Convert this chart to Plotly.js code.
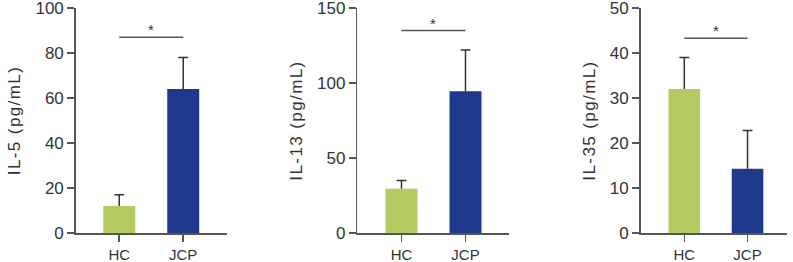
<!DOCTYPE html>
<html>
<head>
<meta charset="utf-8">
<script src="https://cdn.plot.ly/plotly-3.0.1.min.js"></script>
<style>
  html, body { margin: 0; padding: 0; background: #fff; }
  #chart { width: 793px; height: 262px; }
</style>
</head>
<body>
<div id="chart"></div>
<script>
// groups and values (mean + upper SD)
const groups = ["HC", "JCP"];
const barColors = ["#b3cb61", "#1f3a8c"];

const il5Mean = [12, 64];
const il5Err = [5, 14];
const il13Mean = [29.5, 94.5];
const il13Err = [5.5, 27.5];
const il35Mean = [32, 14.3];
const il35Err = [7, 8.5];

const panelTitles = ["IL-5 (pg/mL)", "IL-13 (pg/mL)", "IL-35 (pg/mL)"];
const yMax = [100, 150, 50];
const yStep = [20, 50, 10];
const sigLevel = [87, 135, 43.3];
const sigMark = ["*", "*", "*"];

const means = [il5Mean, il13Mean, il35Mean];
const errs = [il5Err, il13Err, il35Err];

// panel domains (paper fraction)
const domains = [[0.0955, 0.2859], [0.4506, 0.6419], [0.8079, 0.9921]];
const xRanges = [[-0.68, 1.68], [-0.69, 1.68], [-0.69, 1.62]];

const axisColor = "#555555";
const textColor = "#333333";
const fontFam = "Liberation Sans, Arial, sans-serif";

const traces = [];
const layout = {
    width: 793,
    height: 262,
    margin: { l: 0, r: 0, t: 8, b: 29 },
    paper_bgcolor: "#ffffff",
    plot_bgcolor: "#ffffff",
    showlegend: false,
    font: { family: fontFam, color: textColor, size: 17 },
    shapes: [],
    annotations: []
};

for (let i = 0; i < 3; i++) {
    const n = i === 0 ? "" : String(i + 1);
    // bars with the upper error line only (no caps, so no cap on the bar top)
    traces.push({
        type: "bar",
        x: groups,
        y: means[i],
        xaxis: "x" + n,
        yaxis: "y" + n,
        width: 0.5,
        marker: { color: barColors, line: { width: 0 } },
        error_y: {
            type: "data",
            symmetric: false,
            array: errs[i],
            arrayminus: [0, 0],
            color: textColor,
            thickness: 1.5,
            width: 0
        },
        hoverinfo: "x+y"
    });
    // caps on top of the error lines
    traces.push({
        type: "scatter",
        mode: "markers",
        x: groups,
        y: means[i].map((m, k) => m + errs[i][k]),
        xaxis: "x" + n,
        yaxis: "y" + n,
        marker: { symbol: "line-ew", size: 7, line: { width: 1.5, color: textColor } },
        hoverinfo: "skip"
    });

    layout["xaxis" + n] = {
        domain: domains[i],
        anchor: "y" + n,
        type: "category",
        range: xRanges[i],
        showline: true,
        linecolor: axisColor,
        linewidth: 1.5,
        ticks: "outside",
        ticklen: 7,
        tickwidth: 1.5,
        tickcolor: axisColor,
        ticklabelstandoff: 0,
        ticklabeloverflow: "allow",
        showgrid: false,
        zeroline: false,
        automargin: false,
        fixedrange: true,
        tickfont: { size: 15, color: textColor }
    };

    layout["yaxis" + n] = {
        domain: [0, 1],
        anchor: "x" + n,
        range: [0, yMax[i]],
        dtick: yStep[i],
        tick0: 0,
        showline: true,
        linecolor: axisColor,
        linewidth: 1.5,
        ticks: "outside",
        ticklen: 7,
        tickwidth: 1.5,
        tickcolor: axisColor,
        ticklabeloverflow: "allow",
        showgrid: false,
        zeroline: false,
        automargin: false,
        fixedrange: true,
        tickfont: { size: 17, color: textColor },
        title: {
            text: '<span style="letter-spacing:1.4px">' + panelTitles[i] + "</span>",
            font: { size: 17, color: textColor },
            standoff: 10
        }
    };

    // significance bracket between the two groups
    layout.shapes.push({
        type: "line",
        xref: "x" + n, yref: "y" + n,
        x0: groups[0], x1: groups[1],
        y0: sigLevel[i], y1: sigLevel[i],
        line: { color: axisColor, width: 1.5 }
    });
    layout.annotations.push({
        xref: "x" + n, yref: "y" + n,
        x: 0.5, y: sigLevel[i],
        text: sigMark[i],
        showarrow: false,
        yanchor: "bottom",
        yshift: -3,
        font: { size: 15, color: textColor }
    });
}

Plotly.newPlot("chart", traces, layout, { displayModeBar: false, staticPlot: true });
</script>
</body>
</html>
